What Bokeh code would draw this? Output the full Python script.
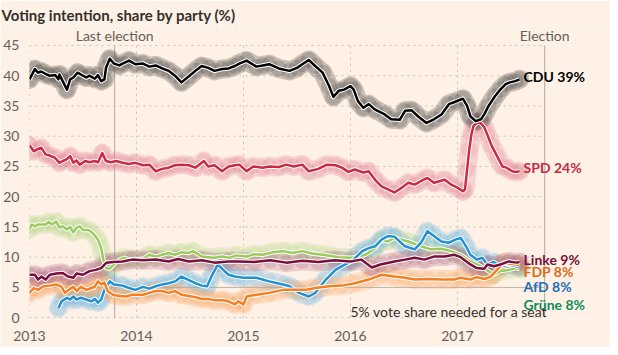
from bokeh.plotting import figure
from bokeh.models import Range1d, FixedTicker, ColumnDataSource
from bokeh.core.properties import value
from bokeh.embed import file_html
from bokeh.resources import INLINE

# ---------------- data ----------------
last_election = 2013.796
election = 2017.815
y_ticks = [0, 5, 10, 15, 20, 25, 30, 35, 40, 45]
x_ticks = [2013, 2014, 2015, 2016, 2017]
x_tick_labels = ["2013", "2014", "2015", "2016", "2017"]
threshold = 5

cdu_t = [2013.00, 2013.05, 2013.08, 2013.11, 2013.16, 2013.19, 2013.24, 2013.27, 2013.28, 2013.31,
         2013.35, 2013.38, 2013.41, 2013.45, 2013.48, 2013.53, 2013.56, 2013.61, 2013.64, 2013.67,
         2013.70, 2013.715, 2013.75, 2013.79, 2013.84, 2013.87, 2013.93, 2013.99, 2014.06, 2014.12,
         2014.18, 2014.24, 2014.30, 2014.36, 2014.42, 2014.49, 2014.55, 2014.61, 2014.67, 2014.73,
         2014.80, 2014.86, 2014.92, 2014.96, 2015.03, 2015.12, 2015.18, 2015.24, 2015.33, 2015.43,
         2015.50, 2015.55, 2015.61, 2015.67, 2015.74, 2015.80, 2015.84, 2015.89, 2015.94, 2016.00,
         2016.03, 2016.07, 2016.12, 2016.17, 2016.23, 2016.32, 2016.38, 2016.46, 2016.51, 2016.57,
         2016.63, 2016.71, 2016.78, 2016.85, 2016.92, 2016.98, 2017.05, 2017.09, 2017.12, 2017.17,
         2017.22, 2017.25, 2017.29, 2017.35, 2017.40, 2017.45, 2017.49, 2017.54, 2017.58]
cdu_v = [39.4, 41.1, 40.5, 40.7, 40.2, 40.0, 40.1, 39.4, 40.2, 39.1,
         37.7, 39.4, 39.7, 40.5, 40.2, 39.7, 40.0, 39.5, 40.1, 39.1,
         39.4, 41.3, 42.8, 42.0, 41.7, 42.0, 42.5, 41.9, 42.0, 41.5,
         41.7, 41.2, 40.8, 40.0, 38.9, 39.9, 40.8, 41.6, 41.3, 40.8,
         41.1, 41.2, 41.6, 42.0, 42.5, 41.5, 41.7, 41.9, 41.2, 40.8,
         41.3, 41.9, 42.6, 41.6, 40.5, 38.3, 36.5, 37.5, 37.7, 38.3,
         37.7, 35.8, 34.7, 35.3, 34.4, 33.6, 32.8, 32.7, 34.2, 34.3,
         33.3, 32.2, 32.8, 33.6, 35.3, 35.7, 36.2, 35.0, 33.3, 32.5,
         32.8, 33.6, 35.0, 36.6, 37.7, 38.6, 38.9, 39.1, 39.4]

spd_t = [2013.00, 2013.04, 2013.08, 2013.11, 2013.15, 2013.19, 2013.24, 2013.28, 2013.31, 2013.35,
         2013.38, 2013.41, 2013.44, 2013.47, 2013.52, 2013.56, 2013.61, 2013.64, 2013.68, 2013.715,
         2013.76, 2013.81, 2013.87, 2013.93, 2013.99, 2014.06, 2014.12, 2014.18, 2014.24, 2014.30,
         2014.36, 2014.42, 2014.49, 2014.55, 2014.63, 2014.67, 2014.73, 2014.80, 2014.86, 2014.92,
         2014.96, 2015.03, 2015.09, 2015.18, 2015.24, 2015.33, 2015.40, 2015.47, 2015.55, 2015.61,
         2015.70, 2015.78, 2015.86, 2015.92, 2015.98, 2016.04, 2016.12, 2016.17, 2016.23, 2016.29,
         2016.35, 2016.41, 2016.48, 2016.54, 2016.60, 2016.66, 2016.72, 2016.78, 2016.88, 2016.94,
         2017.00, 2017.05, 2017.07, 2017.09, 2017.11, 2017.13, 2017.15, 2017.19, 2017.22, 2017.25,
         2017.28, 2017.32, 2017.37, 2017.42, 2017.46, 2017.51, 2017.55, 2017.58]
spd_v = [28.5, 27.5, 27.9, 28.1, 27.0, 26.8, 26.4, 25.6, 25.9, 26.2,
         26.7, 25.6, 26.0, 25.3, 25.9, 25.7, 25.9, 25.7, 27.2, 25.9,
         25.7, 25.9, 25.6, 25.4, 25.6, 25.2, 25.3, 24.2, 24.6, 24.8,
         25.2, 25.3, 25.2, 24.8, 25.9, 25.0, 25.2, 24.2, 25.0, 25.2,
         25.3, 24.2, 25.0, 24.8, 25.0, 24.9, 25.3, 25.0, 25.3, 24.2,
         24.6, 25.3, 25.2, 24.8, 24.1, 24.5, 24.0, 24.2, 22.8, 21.7,
         21.2, 20.7, 21.5, 22.3, 22.0, 22.6, 23.1, 22.3, 22.8, 22.0,
         21.5, 20.9, 21.2, 24.5, 27.8, 30.3, 31.7, 32.3, 32.1, 31.5,
         30.2, 28.4, 26.7, 25.0, 24.8, 24.2, 24.1, 24.2]

gruene_t = [2013.00, 2013.02, 2013.05, 2013.08, 2013.15, 2013.18, 2013.21, 2013.25, 2013.28, 2013.31,
            2013.35, 2013.38, 2013.41, 2013.44, 2013.47, 2013.50, 2013.55, 2013.59, 2013.64, 2013.67,
            2013.69, 2013.715, 2013.75, 2013.79, 2013.84, 2013.89, 2013.93, 2013.99, 2014.06, 2014.12,
            2014.18, 2014.24, 2014.30, 2014.36, 2014.42, 2014.49, 2014.53, 2014.61, 2014.67, 2014.73,
            2014.80, 2014.87, 2014.93, 2015.03, 2015.10, 2015.18, 2015.27, 2015.37, 2015.46, 2015.55,
            2015.64, 2015.74, 2015.82, 2015.89, 2016.01, 2016.14, 2016.23, 2016.29, 2016.35, 2016.41,
            2016.54, 2016.66, 2016.75, 2016.85, 2016.94, 2017.03, 2017.12, 2017.22, 2017.29, 2017.34,
            2017.40, 2017.48, 2017.55, 2017.58]
gruene_v = [14.6, 15.4, 15.1, 15.4, 15.4, 15.8, 15.4, 15.9, 14.9, 15.1,
            14.6, 15.0, 14.1, 14.9, 15.1, 14.5, 14.5, 14.0, 12.9, 11.5,
            9.6, 8.2, 8.1, 8.8, 9.6, 9.9, 9.6, 9.7, 9.7, 10.4,
            10.1, 10.4, 10.7, 10.4, 10.8, 10.7, 11.0, 10.1, 10.0, 9.9,
            10.1, 9.9, 10.3, 10.1, 10.5, 10.4, 10.8, 11.0, 10.7, 11.0,
            10.6, 10.4, 10.2, 10.0, 9.9, 10.4, 11.5, 12.9, 12.6, 13.2,
            12.6, 11.8, 11.3, 11.4, 11.0, 10.4, 9.3, 8.5, 7.7, 7.1,
            7.7, 7.9, 8.2, 8.0]

linke_t = [2013.00, 2013.05, 2013.08, 2013.11, 2013.15, 2013.19, 2013.25, 2013.31, 2013.36, 2013.41,
           2013.44, 2013.50, 2013.56, 2013.62, 2013.67, 2013.72, 2013.78, 2013.87, 2013.96, 2014.06,
           2014.18, 2014.30, 2014.39, 2014.49, 2014.61, 2014.73, 2014.86, 2014.96, 2015.10, 2015.25,
           2015.40, 2015.55, 2015.70, 2015.85, 2016.00, 2016.10, 2016.20, 2016.28, 2016.41, 2016.51,
           2016.60, 2016.69, 2016.78, 2016.88, 2016.97, 2017.03, 2017.12, 2017.18, 2017.25, 2017.28,
           2017.34, 2017.40, 2017.48, 2017.55, 2017.58]
linke_v = [7.1, 7.1, 6.3, 6.8, 6.3, 7.1, 7.3, 7.4, 6.8, 6.6,
           7.3, 7.1, 7.7, 7.9, 8.2, 9.1, 9.2, 9.3, 9.6, 9.5,
           9.6, 9.3, 9.7, 9.3, 9.5, 9.1, 9.3, 9.3, 9.2, 9.5,
           9.1, 9.4, 9.2, 9.5, 9.3, 9.6, 8.3, 8.8, 9.3, 9.6,
           9.9, 9.6, 10.1, 10.1, 10.4, 10.0, 8.8, 8.2, 8.1, 8.8,
           8.5, 8.8, 9.3, 9.1, 9.2]

afd_t = [2013.27, 2013.30, 2013.35, 2013.38, 2013.41, 2013.44, 2013.48, 2013.53, 2013.58, 2013.61,
         2013.64, 2013.67, 2013.70, 2013.75, 2013.79, 2013.87, 2013.93, 2013.99, 2014.06, 2014.12,
         2014.18, 2014.24, 2014.30, 2014.36, 2014.42, 2014.49, 2014.55, 2014.61, 2014.66, 2014.70,
         2014.76, 2014.81, 2014.86, 2014.92, 2015.00, 2015.12, 2015.24, 2015.37, 2015.43, 2015.52,
         2015.61, 2015.67, 2015.77, 2015.86, 2015.95, 2016.01, 2016.11, 2016.17, 2016.23, 2016.29,
         2016.35, 2016.41, 2016.51, 2016.60, 2016.66, 2016.72, 2016.78, 2016.85, 2016.92, 2016.98,
         2017.03, 2017.08, 2017.12, 2017.18, 2017.23, 2017.28, 2017.34, 2017.40, 2017.48, 2017.55,
         2017.58]
afd_v = [1.6, 2.7, 3.3, 3.0, 3.5, 3.0, 3.3, 3.0, 2.7, 3.1,
         2.5, 3.0, 4.6, 6.0, 5.5, 5.3, 4.9, 4.6, 5.1, 4.8,
         5.2, 5.5, 5.7, 6.0, 6.8, 6.2, 5.7, 5.3, 5.2, 6.8,
         8.8, 7.9, 7.1, 6.8, 6.6, 6.6, 6.0, 5.5, 5.2, 4.1,
         3.5, 4.1, 6.3, 7.9, 8.8, 9.3, 11.0, 11.5, 11.8, 12.9,
         13.5, 13.4, 11.8, 11.3, 12.4, 14.3, 13.5, 12.6, 12.4, 12.9,
         13.2, 11.8, 10.4, 9.6, 9.9, 8.8, 9.2, 8.5, 8.8, 8.5,
         8.3]

fdp_t = [2013.00, 2013.04, 2013.08, 2013.13, 2013.19, 2013.25, 2013.30, 2013.33, 2013.38, 2013.41,
         2013.44, 2013.48, 2013.53, 2013.58, 2013.61, 2013.64, 2013.67, 2013.70, 2013.73, 2013.78,
         2013.84, 2013.90, 2013.96, 2014.06, 2014.12, 2014.18, 2014.24, 2014.30, 2014.36, 2014.42,
         2014.49, 2014.55, 2014.61, 2014.67, 2014.73, 2014.80, 2014.86, 2014.92, 2014.95, 2015.00,
         2015.03, 2015.12, 2015.24, 2015.37, 2015.49, 2015.58, 2015.67, 2015.80, 2015.92, 2016.04,
         2016.17, 2016.29, 2016.41, 2016.51, 2016.60, 2016.72, 2016.85, 2016.97, 2017.03, 2017.12,
         2017.18, 2017.25, 2017.31, 2017.37, 2017.43, 2017.49, 2017.55, 2017.58]
fdp_v = [4.1, 4.9, 4.6, 5.2, 5.3, 5.5, 5.1, 4.1, 4.8, 5.1,
         4.4, 5.1, 4.6, 4.9, 5.1, 6.0, 5.5, 5.8, 4.4, 3.8,
         3.6, 3.5, 3.8, 3.8, 4.1, 4.4, 4.4, 4.1, 4.4, 3.8,
         3.6, 3.4, 3.1, 3.1, 2.9, 2.9, 2.7, 2.2, 2.7, 2.2,
         3.5, 3.8, 4.1, 4.6, 4.6, 4.6, 4.9, 5.2, 5.3, 5.7,
         6.3, 7.1, 6.8, 6.6, 6.3, 6.4, 6.3, 6.3, 6.6, 6.3,
         6.7, 6.4, 6.8, 7.9, 9.1, 8.9, 8.8, 8.6]

party_names = ["Grüne", "AfD", "FDP", "Linke", "SPD", "CDU"]
party_final = [8, 8, 8, 9, 24, 39]

# ---------------- style ----------------
BG = "#FFF1E5"
GRID = "#c9c0b7"
TXT = "#66605C"
DARK = "#33302E"

series = [
    (gruene_t, gruene_v, "#9BCB5C", "#b3d98a", "#0E8C5E", 0.25),
    (afd_t, afd_v, "#2390D0", "#62b2e3", "#1E6FB5", 0.25),
    (fdp_t, fdp_v, "#F57F20", "#f8a05c", "#DC6A1C", 0.25),
    (linke_t, linke_v, "#7A0E3C", "#a8607e", "#7A0E3C", 0.25),
    (spd_t, spd_v, "#CC2A40", "#e07d8f", "#C42B3E", 0.25),
    (cdu_t, cdu_v, "#000000", "#4f4b48", "#000000", 0.3),
]
label_y = [2.2, 5.1, 7.6, 9.6, 24.8, 39.8]  # de-collided label positions

p = figure(width=610, height=347, output_backend="svg", toolbar_location=None,
           x_range=Range1d(2013.0, 2018.43), y_range=Range1d(-0.3, 48.3),
           min_border_left=23, min_border_right=0, min_border_top=25, min_border_bottom=28,
           background_fill_color=BG, border_fill_color=BG, outline_line_color=None)
p.xgrid.visible = False
p.ygrid.visible = False

p.title.text = "Voting intention, share by party (%)"
p.title.text_font = "Lato"
p.title.text_font_size = "15px"
p.title.text_font_style = "bold"
p.title.text_color = DARK
p.title.align = "left"
p.title.offset = -28
p.title.standoff = 3

for ax in (p.xaxis[0], p.yaxis[0]):
    ax.axis_line_color = None
    ax.major_tick_line_color = None
    ax.minor_tick_line_color = None
    ax.major_label_text_font = "Lato"
    ax.major_label_text_font_size = "14px"
    ax.major_label_text_color = TXT
p.yaxis[0].ticker = FixedTicker(ticks=y_ticks)
p.yaxis[0].major_label_standoff = 4
p.xaxis[0].ticker = FixedTicker(ticks=x_ticks)
p.xaxis[0].major_label_overrides = {t: s for t, s in zip(x_ticks, x_tick_labels)}
p.xaxis[0].major_label_standoff = 5

# grid lines
p.segment(x0=[x_ticks[0]] * len(y_ticks), x1=[election] * len(y_ticks), y0=y_ticks, y1=y_ticks,
          line_color=GRID, line_width=1, line_dash="2 4")
p.segment(x0=x_ticks, x1=x_ticks, y0=[y_ticks[0]] * len(x_ticks), y1=[y_ticks[-1]] * len(x_ticks),
          line_color=GRID, line_width=1, line_dash="2 4")
p.segment(x0=[x_ticks[0]], x1=[election], y0=[threshold], y1=[threshold],
          line_color="#bfb6ad", line_width=1)
p.segment(x0=[last_election, election], x1=[last_election, election],
          y0=[y_ticks[0]] * 2, y1=[y_ticks[-1]] * 2, line_color="#b3aaa2", line_width=1)

# poll clouds
for t, v, col, cloud, lab, a in series:
    p.line(t, v, line_color=cloud, line_width=19, line_alpha=a, line_join="round", line_cap="round")
    p.scatter(t, v, size=16, fill_color=cloud, fill_alpha=a * 0.8, line_color=None)

# trend lines with halo
for t, v, col, cloud, lab, a in series:
    p.line(t, v, line_color="white", line_width=4.5, line_join="round")
    p.line(t, v, line_color=col, line_width=2.5, line_join="round")

# end labels
lab_src = ColumnDataSource(dict(
    x=[s[0][-1] for s in series], y=label_y,
    text=[f"{n} {f}%" for n, f in zip(party_names, party_final)],
    color=[s[4] for s in series]))
p.text(x="x", y="y", text="text", source=lab_src, text_color="color", x_offset=4,
       text_font=value("Lato"), text_font_style="bold", text_font_size="14px",
       text_baseline="middle", text_align="left")

# election annotations
p.text(x=[last_election, election], y=[46.7, 46.7], text=["Last election", "Election"],
       text_font=value("Lato"), text_font_size="14px", text_color=TXT,
       text_align="center", text_baseline="middle")
p.text(x=[2016.0], y=[1.0], text=["5% vote share needed for a seat"],
       text_font=value("Lato"), text_font_size="14px", text_color=DARK,
       text_align="left", text_baseline="middle")

html = file_html(p, INLINE)
html = html.replace("<body>", '<body style="background:#FFF1E5">', 1)
open("out.html", "w").write(html)
